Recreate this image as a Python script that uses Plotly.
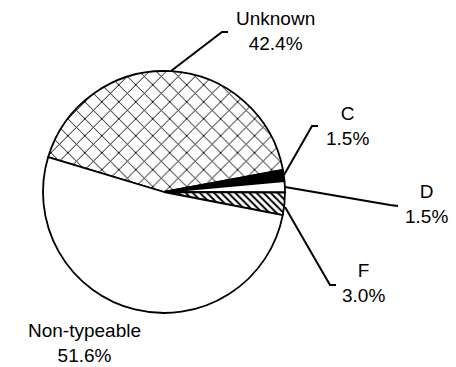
import plotly.graph_objects as go

W, H = 456, 367

labels = ["Unknown", "C", "D", "F", "Non-typeable"]
values = [42.4, 1.5, 1.5, 3.0, 51.6]
fills = ["white", "black", "white", "white", "white"]
patterns = ["x", "", "", "\\", ""]

# label placement (pixel coordinates of label centre) and leader lines
label_pos = {
    "Unknown": (275, 31),
    "C": (347, 126),
    "D": (426, 204),
    "F": (363, 283),
    "Non-typeable": (84, 343),
}
leaders = {
    "Unknown": [(171, 71), (222, 32), (228, 32)],
    "C": [(284, 175), (312, 126), (318, 126)],
    "D": [(285, 187), (390, 205), (398, 206)],
    "F": [(285, 207), (330, 285), (336, 285)],
}

def px(x):
    return x / W

def py(y):
    return 1 - y / H

cx, cy, r = 164, 192, 121

fig = go.Figure(go.Pie(
    labels=labels,
    values=values,
    sort=False,
    direction="clockwise",
    rotation=-73.2,
    textinfo="none",
    hoverinfo="label+percent",
    marker=dict(
        colors=fills,
        line=dict(color="black", width=1.8),
        pattern=dict(shape=patterns, fgcolor="black", bgcolor=fills,
                     size=[12, 8, 8, 5, 8], solidity=[0.15, 0.3, 0.3, 0.4, 0.3]),
    ),
    domain=dict(x=[px(cx - r), px(cx + r)], y=[py(cy + r), py(cy - r)]),
    showlegend=False,
))

for lab, val in zip(labels, values):
    x, y = label_pos[lab]
    fig.add_annotation(
        x=px(x), y=py(y), xref="paper", yref="paper",
        text=f"{lab}<br>{val:.1f}%", showarrow=False,
        xanchor="center", yanchor="middle",
        font=dict(family="Liberation Sans, Arial", size=19, color="black"),
    )

for lab, pts in leaders.items():
    path = "M " + " L ".join(f"{px(x)},{py(y)}" for x, y in pts)
    fig.add_shape(type="path", path=path, xref="paper", yref="paper",
                  line=dict(color="black", width=2))

fig.update_layout(
    width=W, height=H,
    margin=dict(l=0, r=0, t=0, b=0),
    paper_bgcolor="white", plot_bgcolor="white",
)

fig.write_html("out.html",
               config={"displayModeBar": False},
               post_script="document.body.style.margin='0';document.body.style.overflow='hidden';")
